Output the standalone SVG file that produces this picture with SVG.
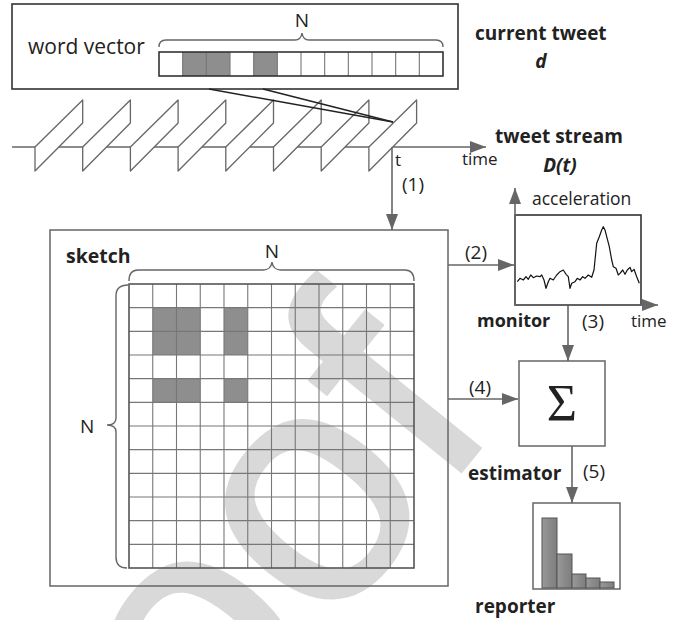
<svg xmlns="http://www.w3.org/2000/svg" width="688" height="620" viewBox="0 0 688 620">
<style>
.lbl{font-family:"Open Sans","Liberation Sans",sans-serif;fill:#222;}
.b{font-weight:bold;}
.bi{font-weight:bold;font-style:italic;}
.box{fill:none;stroke:#666;stroke-width:1.5;}
.dbox{fill:#fff;stroke:#333;stroke-width:1.6;}
.conn{fill:none;stroke:#666;stroke-width:1.6;}
.cell{fill:#8e8e8e;}
.gl{stroke:#777;stroke-width:1.1;}
.brace{fill:none;stroke:#666;stroke-width:1.4;}
.card{fill:#fff;stroke:#666;stroke-width:1.3;stroke-linejoin:round;}
.bar{fill:#8c8c8c;stroke:#555;stroke-width:1;}
</style>
<defs>
<marker id="ah" viewBox="0 0 16 12" refX="16" refY="6" markerWidth="16" markerHeight="12" markerUnits="userSpaceOnUse" orient="auto">
<path d="M0,0 L16,6 L0,12 z" fill="#666"/>
</marker>
<linearGradient id="bg" x1="0" y1="0" x2="1" y2="0">
<stop offset="0" stop-color="#9a9a9a"/><stop offset="0.5" stop-color="#8a8a8a"/><stop offset="1" stop-color="#7e7e7e"/>
</linearGradient>
</defs>
<rect width="688" height="620" fill="#fff"/>
<!-- watermark -->
<g id="watermark">
<text transform="translate(385,565) rotate(-51)" x="-605" y="0" font-family="Liberation Sans, Arial, sans-serif" font-size="330" fill="#d9d9d9" stroke="#d9d9d9" stroke-width="4">Proof</text>
</g>

<!-- current tweet box -->
<g id="current-tweet">
<rect x="12" y="4" width="446" height="85" class="dbox"/>
<text x="28" y="54" class="lbl" font-size="21">word vector</text>
<path class="brace" d="M159,47 Q159,40 166,40 L295,40 Q301,40 302,33 Q303,40 309,40 L436,40 Q443,40 443,47"/>
<text x="302" y="27" class="lbl" font-size="19" text-anchor="middle">N</text>
<g>
<rect x="182.67" y="52" width="47.33" height="24" class="cell"/>
<rect x="253.67" y="52" width="23.67" height="24" class="cell"/>
<g class="gl">
<line x1="182.67" y1="52" x2="182.67" y2="76"/><line x1="206.33" y1="52" x2="206.33" y2="76"/>
<line x1="230" y1="52" x2="230" y2="76"/><line x1="253.67" y1="52" x2="253.67" y2="76"/>
<line x1="277.33" y1="52" x2="277.33" y2="76"/><line x1="301" y1="52" x2="301" y2="76"/>
<line x1="324.67" y1="52" x2="324.67" y2="76"/><line x1="348.33" y1="52" x2="348.33" y2="76"/>
<line x1="372" y1="52" x2="372" y2="76"/><line x1="395.67" y1="52" x2="395.67" y2="76"/>
<line x1="419.33" y1="52" x2="419.33" y2="76"/>
</g>
<rect x="159" y="52" width="284" height="24" fill="none" stroke="#333" stroke-width="1.6"/>
</g>
</g>
<text x="475" y="40" class="lbl b" font-size="19">current tweet</text>
<text x="541" y="68" class="lbl bi" font-size="19" text-anchor="middle">d</text>

<!-- tweet stream -->
<g id="tweet-stream">
<line x1="12" y1="147" x2="486" y2="147" class="conn" marker-end="url(#ah)"/>
<g id="cards">
<path class="card" d="M35,147 L82.7,100 L82.7,123 L35,171 Z"/>
<path class="card" d="M82.7,147 L130.4,100 L130.4,123 L82.7,171 Z"/>
<path class="card" d="M130.4,147 L178.1,100 L178.1,123 L130.4,171 Z"/>
<path class="card" d="M178.1,147 L225.8,100 L225.8,123 L178.1,171 Z"/>
<path class="card" d="M225.8,147 L273.5,100 L273.5,123 L225.8,171 Z"/>
<path class="card" d="M273.5,147 L321.2,100 L321.2,123 L273.5,171 Z"/>
<path class="card" d="M321.2,147 L368.9,100 L368.9,123 L321.2,171 Z"/>
<path class="card" d="M368.9,147 L416.6,100 L416.6,123 L368.9,171 Z"/>
</g>
<g fill="none" stroke="#222" stroke-width="1.4">
<line x1="209" y1="89" x2="393" y2="122"/>
<line x1="263" y1="89" x2="393" y2="122"/>
</g>
<text x="395" y="166" class="lbl" font-size="17">t</text>
<text x="462" y="165" class="lbl" font-size="17">time</text>
</g>
<text x="495" y="143" class="lbl b" font-size="19">tweet stream</text>
<text x="560" y="172" class="lbl bi" font-size="19" text-anchor="middle">D(t)</text>

<!-- connectors -->
<g id="connectors">
<line x1="392" y1="147" x2="392" y2="230" class="conn" marker-end="url(#ah)"/>
<text x="402" y="191" class="lbl" font-size="19">(1)</text>
<line x1="448" y1="265" x2="514" y2="265" class="conn" marker-end="url(#ah)"/>
<text x="465" y="259" class="lbl" font-size="19">(2)</text>
<line x1="568" y1="305" x2="568" y2="361" class="conn" marker-end="url(#ah)"/>
<text x="582" y="328" class="lbl" font-size="19">(3)</text>
<line x1="448" y1="399" x2="518" y2="399" class="conn" marker-end="url(#ah)"/>
<text x="469" y="394" class="lbl" font-size="19">(4)</text>
<line x1="572" y1="446" x2="572" y2="503" class="conn" marker-end="url(#ah)"/>
<text x="583" y="478" class="lbl" font-size="19">(5)</text>
</g>

<!-- sketch -->
<g id="sketch">
<rect x="50" y="230" width="398" height="356" class="box"/>
<text x="66" y="263" class="lbl b" font-size="19.5">sketch</text>
<path class="brace" d="M129,281 Q129,270 138,270 L263,270 Q271,270 272,262 Q273,270 281,270 L405,270 Q414,270 414,281"/>
<text x="272" y="258" class="lbl" font-size="19" text-anchor="middle">N</text>
<path class="brace" d="M128,285 Q116,285 116,296 L116,418 Q116,425 107,425 Q116,425 116,432 L116,557 Q116,568 127,568"/>
<text x="80" y="433" class="lbl" font-size="19">N</text>
<g>
<rect x="152.75" y="307.67" width="47.5" height="47.33" class="cell"/>
<rect x="224" y="307.67" width="23.75" height="47.33" class="cell"/>
<rect x="152.75" y="378.67" width="47.5" height="23.67" class="cell"/>
<rect x="224" y="378.67" width="23.75" height="23.67" class="cell"/>
</g>
<g class="gl">
<line x1="152.75" y1="284" x2="152.75" y2="568"/><line x1="176.5" y1="284" x2="176.5" y2="568"/>
<line x1="200.25" y1="284" x2="200.25" y2="568"/><line x1="224" y1="284" x2="224" y2="568"/>
<line x1="247.75" y1="284" x2="247.75" y2="568"/><line x1="271.5" y1="284" x2="271.5" y2="568"/>
<line x1="295.25" y1="284" x2="295.25" y2="568"/><line x1="319" y1="284" x2="319" y2="568"/>
<line x1="342.75" y1="284" x2="342.75" y2="568"/><line x1="366.5" y1="284" x2="366.5" y2="568"/>
<line x1="390.25" y1="284" x2="390.25" y2="568"/>
<line x1="129" y1="307.67" x2="414" y2="307.67"/><line x1="129" y1="331.33" x2="414" y2="331.33"/>
<line x1="129" y1="355" x2="414" y2="355"/><line x1="129" y1="378.67" x2="414" y2="378.67"/>
<line x1="129" y1="402.33" x2="414" y2="402.33"/><line x1="129" y1="426" x2="414" y2="426"/>
<line x1="129" y1="449.67" x2="414" y2="449.67"/><line x1="129" y1="473.33" x2="414" y2="473.33"/>
<line x1="129" y1="497" x2="414" y2="497"/><line x1="129" y1="520.67" x2="414" y2="520.67"/>
<line x1="129" y1="544.33" x2="414" y2="544.33"/>
</g>
<rect x="129" y="284" width="285" height="284" fill="none" stroke="#555" stroke-width="1.6"/>
</g>

<!-- monitor -->
<g id="monitor">
<rect x="515" y="215" width="126" height="90" class="dbox"/>
<line x1="515" y1="305" x2="515" y2="188" class="conn" marker-end="url(#ah)"/>
<line x1="515" y1="305" x2="658" y2="305" class="conn" marker-end="url(#ah)"/>
<polyline fill="none" stroke="#111" stroke-width="1.2" stroke-linejoin="round" points="517.3,281.7 520,278.3 523.3,280 526,276.7 528.3,279.3 530.7,275 533.3,277.7 536.7,276 540,276.7 541.7,275 544,280 546,288.3 548.3,281.7 550,278.3 553.3,280 556.7,275 560,271.7 563.3,270 566,274.3 568.3,276.7 570,288.3 571.7,283.3 575,281.7 577.3,278.3 580,280 582.7,276.7 585,278.3 588.3,275 591.7,277.3 594,270 596.7,243.3 599.3,236.7 601.7,230 603.3,226.7 605,230 606.7,236.7 609.3,246.7 611.7,260 613.3,266.7 616,268.3 618.3,275 620,273.3 622.7,270 625,274.3 627.3,270 630,267.3 631.7,271.7 634,269.3 636.7,276.7 639.3,283.3"/>
<text x="532" y="205" class="lbl" font-size="17.5">acceleration</text>
<text x="631" y="327" class="lbl" font-size="17">time</text>
<text x="477" y="327" class="lbl b" font-size="18">monitor</text>
</g>

<!-- estimator -->
<g id="estimator">
<rect x="519" y="361" width="86" height="85" class="box"/>
<text x="562" y="421" font-family="Liberation Serif, serif" font-size="52" fill="#222" text-anchor="middle">Σ</text>
<text x="468" y="480" class="lbl b" font-size="19">estimator</text>
</g>

<!-- reporter -->
<g id="reporter">
<rect x="533" y="503" width="87" height="86" class="box"/>
<rect x="542" y="518" width="15" height="70" fill="url(#bg)" stroke="#555"/>
<rect x="557" y="554" width="15" height="34" fill="url(#bg)" stroke="#555"/>
<rect x="572" y="574" width="14" height="14" fill="url(#bg)" stroke="#555"/>
<rect x="586" y="578" width="14" height="10" fill="url(#bg)" stroke="#555"/>
<rect x="600" y="582" width="14" height="6" fill="url(#bg)" stroke="#555"/>
<text x="475" y="613" class="lbl b" font-size="19">reporter</text>
</g>
</svg>
